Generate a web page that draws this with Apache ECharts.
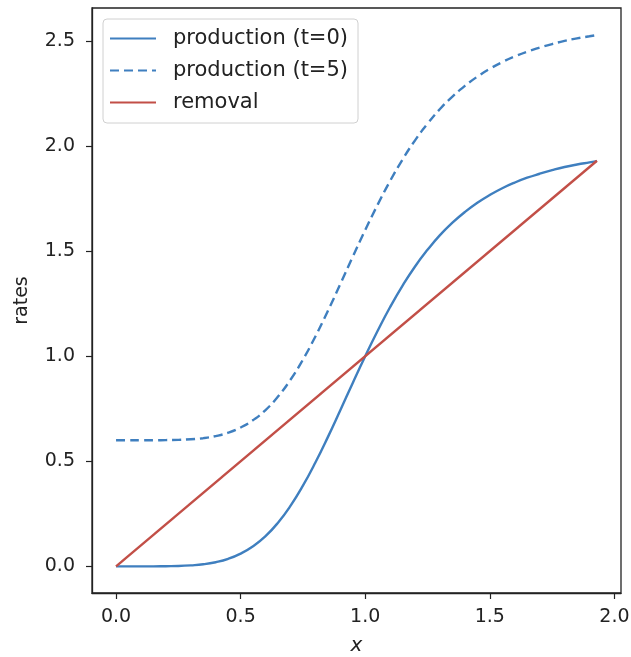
<!DOCTYPE html>
<html><head><meta charset="utf-8">
<script src="https://cdn.jsdelivr.net/npm/echarts@6/dist/echarts.min.js"></script>
<style>html,body{margin:0;padding:0;background:#fff}#c{width:631px;height:657px}</style>
</head><body><div id="c"></div>
<script>
const xVals = [0, 0.05, 0.1, 0.15, 0.2, 0.25, 0.3, 0.35, 0.4, 0.45, 0.5, 0.55, 0.6, 0.65, 0.7, 0.75, 0.8, 0.85, 0.9, 0.95, 1.0, 1.05, 1.1, 1.15, 1.2, 1.25, 1.3, 1.35, 1.4, 1.45, 1.5, 1.55, 1.6, 1.65, 1.7, 1.75, 1.8, 1.85, 1.9, 1.93];
const prod0 = [0, 0.000, 0.000, 0.000, 0.001, 0.002, 0.005, 0.010, 0.020, 0.036, 0.061, 0.096, 0.144, 0.208, 0.288, 0.384, 0.494, 0.615, 0.743, 0.873, 1.0, 1.121, 1.234, 1.336, 1.427, 1.506, 1.576, 1.635, 1.686, 1.730, 1.767, 1.799, 1.826, 1.849, 1.868, 1.885, 1.900, 1.912, 1.922, 1.928];
const prod5 = [0.6, 0.600, 0.600, 0.600, 0.601, 0.602, 0.605, 0.610, 0.620, 0.636, 0.661, 0.696, 0.744, 0.808, 0.888, 0.984, 1.094, 1.215, 1.343, 1.473, 1.6, 1.721, 1.834, 1.936, 2.027, 2.106, 2.176, 2.235, 2.286, 2.330, 2.367, 2.399, 2.426, 2.449, 2.468, 2.485, 2.500, 2.512, 2.522, 2.528];
const removalX = [0, 1.93];
const removalY = [0, 1.93];
const xTicks = [0, 0.5, 1.0, 1.5, 2.0];
const yTicks = [0, 0.5, 1.0, 1.5, 2.0, 2.5];
const seriesNames = ['production (t=0)', 'production (t=5)', 'removal'];

const blue = '#3f7fbf', red = '#c24f47';
const pair = (xs, ys) => xs.map((x, i) => [x, ys[i]]);
const chart = echarts.init(document.getElementById('c'));
chart.setOption({
  animation: false,
  grid: {left: 92, right: 10, top: 8, bottom: 64, show: true, borderColor: '#222', borderWidth: 1.3, outerBoundsMode: 'none', containLabel: false},
  xAxis: {
    type: 'value', min: -0.0965, max: 2.0265,
    name: 'x', nameLocation: 'middle', nameGap: 43,
    nameTextStyle: {fontSize: 20, fontStyle: 'italic', color: '#222', fontFamily: 'DejaVu Sans'},
    axisLine: {show: true, onZero: false, lineStyle: {color: '#222', width: 1.3}},
    axisTick: {show: true, length: 6, lineStyle: {color: '#222', width: 1.2}, customValues: xTicks},
    axisLabel: {customValues: xTicks, fontSize: 19, color: '#222', margin: 15, fontFamily: 'DejaVu Sans', formatter: v => v.toFixed(1)},
    splitLine: {show: false}
  },
  yAxis: {
    type: 'value', min: -0.1265, max: 2.6565,
    name: 'rates', nameLocation: 'middle', nameGap: 60,
    nameTextStyle: {fontSize: 19, color: '#222', fontFamily: 'DejaVu Sans'},
    axisLine: {show: true, onZero: false, lineStyle: {color: '#222', width: 1.3}},
    axisTick: {show: true, length: 6, lineStyle: {color: '#222', width: 1.2}, customValues: yTicks},
    axisLabel: {customValues: yTicks, fontSize: 19, color: '#222', margin: 17, fontFamily: 'DejaVu Sans', formatter: v => v.toFixed(1)},
    splitLine: {show: false}
  },
  legend: {
    orient: 'vertical', left: 103, top: 19,
    data: seriesNames,
    itemWidth: 46, itemHeight: 14, itemGap: 11,
    padding: [9, 10, 10, 6],
    borderColor: '#d0d0d0', borderWidth: 1, borderRadius: 4,
    backgroundColor: '#fff',
    itemStyle: {opacity: 0},
    textStyle: {fontSize: 21, color: '#222', fontFamily: 'DejaVu Sans', padding: [0, 0, 0, 12]}
  },
  series: [
    {name: seriesNames[0], type: 'line', data: pair(xVals, prod0), smooth: true, showSymbol: false, symbol: 'none',
     lineStyle: {color: blue, width: 2.4}, itemStyle: {color: blue}},
    {name: seriesNames[1], type: 'line', data: pair(xVals, prod5), smooth: true, showSymbol: false, symbol: 'none',
     lineStyle: {color: blue, width: 2.4, type: [9, 5]}, itemStyle: {color: blue}},
    {name: seriesNames[2], type: 'line', data: pair(removalX, removalY), showSymbol: false, symbol: 'none',
     lineStyle: {color: red, width: 2.4}, itemStyle: {color: red}}
  ]
});
</script></body></html>
